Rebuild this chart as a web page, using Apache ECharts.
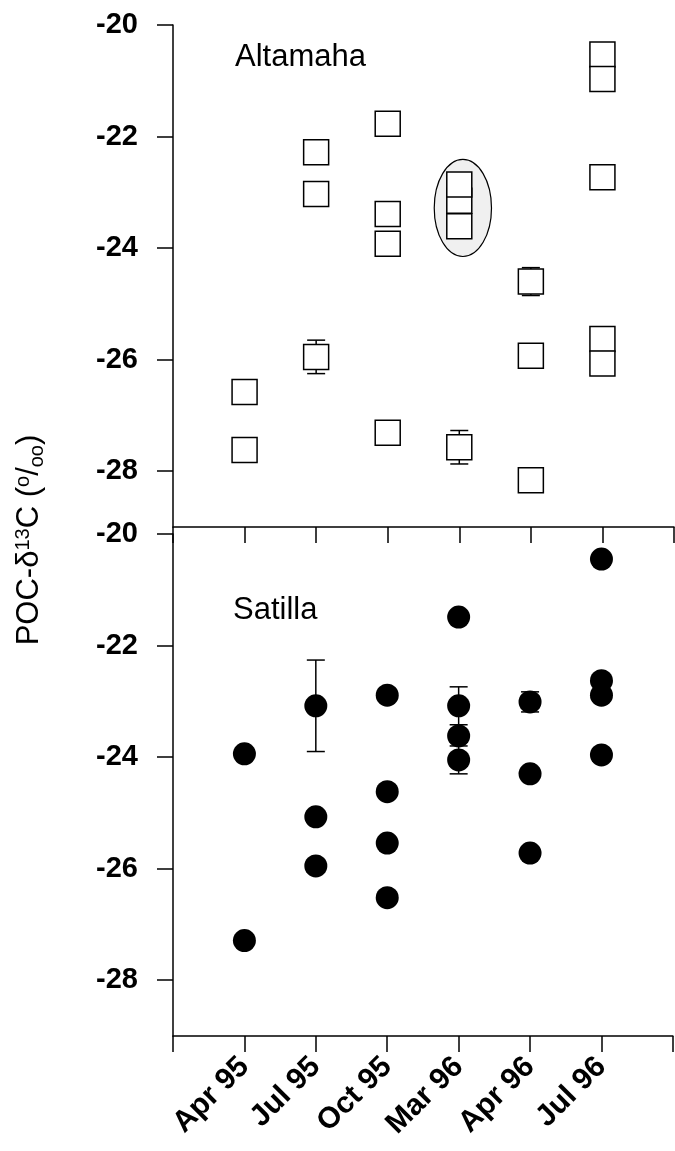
<!DOCTYPE html>
<html>
<head>
<meta charset="utf-8">
<script src="https://cdn.jsdelivr.net/npm/echarts@6/dist/echarts.min.js"></script>
<style>
  html, body { margin: 0; padding: 0; background: #fff; }
  #chart { width: 675px; height: 1151px; }
</style>
</head>
<body>
<div id="chart"></div>
<script>
  // sampling dates, x position 1..6
  var months = ['Apr 95', 'Jul 95', 'Oct 95', 'Mar 96', 'Apr 96', 'Jul 96'];
  var yTicks = [-20, -22, -24, -26, -28];

  // Altamaha, open squares (month position, POC-d13C)
  var altamahaMonth = [1, 1, 2, 2, 2, 3, 3, 3, 3, 4, 4, 4, 4, 5, 5, 5, 6, 6, 6, 6, 6];
  var altamahaValue = [-26.58, -27.62, -22.28, -23.03, -25.95, -21.77, -23.39, -23.92, -27.31,
                       -23.15, -22.86, -23.61, -27.57, -24.60, -25.93, -28.16,
                       -20.53, -20.97, -22.73, -25.63, -26.07];
  // Altamaha error bars
  var altamahaErrMonth = [2, 4, 5];
  var altamahaErrValue = [-25.95, -27.57, -24.60];
  var altamahaErr = [0.30, 0.30, 0.25];

  // Satilla, filled circles
  var satillaMonth = [1, 1, 2, 2, 2, 3, 3, 3, 3, 4, 4, 4, 4, 5, 5, 5, 6, 6, 6, 6];
  var satillaValue = [-23.94, -27.29, -23.08, -25.07, -25.95, -22.89, -24.62, -25.54, -26.52,
                      -21.49, -23.08, -23.62, -24.05, -23.01, -24.30, -25.72,
                      -20.45, -22.63, -22.89, -23.96];
  // Satilla error bars
  var satillaErrMonth = [2, 4, 4, 5];
  var satillaErrValue = [-23.08, -23.08, -24.05, -23.01];
  var satillaErr = [0.82, 0.34, 0.25, 0.18];

  // circled group at Mar 96 (centre, half width in months, half height in permil)
  var ringMonth = [4.05];
  var ringValue = [-23.28];
  var ringHalfW = [0.40];
  var ringHalfH = [0.87];

  var FONT = 'Liberation Sans, Arial, sans-serif';

  function zip(a, b, c) {
    return a.map(function (v, i) { return c ? [v, b[i], c[i]] : [v, b[i]]; });
  }

  function errorBar(params, api) {
    var x = api.value(0), v = api.value(1), e = api.value(2);
    var hi = api.coord([x, v + e]);
    var lo = api.coord([x, v - e]);
    var w = 9;
    var st = { stroke: '#000', lineWidth: 1.5 };
    return {
      type: 'group',
      children: [
        { type: 'line', shape: { x1: hi[0], y1: hi[1], x2: lo[0], y2: lo[1] }, style: st },
        { type: 'line', shape: { x1: hi[0] - w, y1: hi[1], x2: hi[0] + w, y2: hi[1] }, style: st },
        { type: 'line', shape: { x1: lo[0] - w, y1: lo[1], x2: lo[0] + w, y2: lo[1] }, style: st }
      ]
    };
  }

  function ring(params, api) {
    var c = api.coord([api.value(0), api.value(1)]);
    var s = api.size([api.value(2), api.value(3)]);
    return {
      type: 'ellipse',
      shape: { cx: c[0], cy: c[1], rx: s[0], ry: s[1] },
      style: { fill: '#f0f0f0', stroke: '#000', lineWidth: 1.2 }
    };
  }

  function xAxis(idx, labels) {
    return {
      type: 'value', gridIndex: idx, min: 0, max: 7, interval: 1,
      axisLine: { lineStyle: { color: '#000', width: 1.5 } },
      axisTick: { length: 16, lineStyle: { color: '#000', width: 1.5 } },
      splitLine: { show: false },
      axisLabel: {
        show: labels, rotate: 45, margin: 26,
        color: '#000', fontFamily: FONT, fontWeight: 'bold', fontSize: 30,
        formatter: function (v) { return (v >= 1 && v <= 6) ? months[v - 1] : ''; }
      }
    };
  }

  function yAxis(idx) {
    return {
      type: 'value', gridIndex: idx, min: -29, max: -20,
      axisLine: { lineStyle: { color: '#000', width: 1.5 } },
      axisTick: { length: 16, customValues: yTicks, lineStyle: { color: '#000', width: 1.5 } },
      splitLine: { show: false },
      axisLabel: {
        customValues: yTicks, margin: 35,
        color: '#000', fontFamily: FONT, fontWeight: 'bold', fontSize: 29
      }
    };
  }

  var chart = echarts.init(document.getElementById('chart'));
  chart.setOption({
    backgroundColor: '#fff',
    animation: false,
    grid: [
      { left: 173, top: 25, width: 501, height: 502 },
      { left: 173, top: 534, width: 501, height: 502 }
    ],
    xAxis: [xAxis(0, false), xAxis(1, true)],
    yAxis: [yAxis(0), yAxis(1)],
    graphic: [
      { type: 'text', x: 235, y: 57, style: { text: 'Altamaha', font: '31px ' + FONT, fill: '#000', verticalAlign: 'middle' } },
      { type: 'text', x: 233, y: 610, style: { text: 'Satilla', font: '31px ' + FONT, fill: '#000', verticalAlign: 'middle' } },
      {
        type: 'text', x: 29, y: 540, rotation: Math.PI / 2,
        style: {
          text: '{a|POC-δ}{s|13}{a|C (}{s|o}{a|/}{b|oo}{a|)}',
          align: 'center', verticalAlign: 'middle',
          rich: {
            a: { font: '31px ' + FONT, fill: '#000', lineHeight: 40, verticalAlign: 'middle' },
            s: { font: '20px ' + FONT, fill: '#000', lineHeight: 40, verticalAlign: 'top', padding: [4, 0, 0, 0] },
            b: { font: '20px ' + FONT, fill: '#000', lineHeight: 40, verticalAlign: 'bottom', padding: [0, 0, 2, 0] }
          }
        }
      }
    ],
    series: [
      {
        type: 'custom', xAxisIndex: 0, yAxisIndex: 0, z: 1, silent: true,
        renderItem: ring,
        data: ringMonth.map(function (m, i) { return [m, ringValue[i], ringHalfW[i], ringHalfH[i]]; })
      },
      {
        type: 'custom', xAxisIndex: 0, yAxisIndex: 0, z: 2, silent: true,
        renderItem: errorBar, data: zip(altamahaErrMonth, altamahaErrValue, altamahaErr)
      },
      {
        type: 'scatter', xAxisIndex: 0, yAxisIndex: 0, z: 3, silent: true,
        symbol: 'rect', symbolSize: 25,
        itemStyle: { color: '#fff', borderColor: '#000', borderWidth: 1.5, opacity: 1 },
        data: zip(altamahaMonth, altamahaValue)
      },
      {
        type: 'custom', xAxisIndex: 1, yAxisIndex: 1, z: 2, silent: true,
        renderItem: errorBar, data: zip(satillaErrMonth, satillaErrValue, satillaErr)
      },
      {
        type: 'scatter', xAxisIndex: 1, yAxisIndex: 1, z: 3, silent: true,
        symbol: 'circle', symbolSize: 23,
        itemStyle: { color: '#000', opacity: 1 },
        data: zip(satillaMonth, satillaValue)
      }
    ]
  });
</script>
</body>
</html>
